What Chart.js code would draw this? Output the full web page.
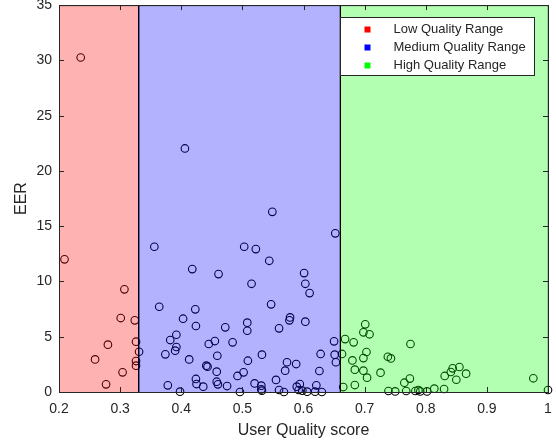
<!DOCTYPE html>
<html>
<head>
<meta charset="utf-8">
<script src="https://cdn.jsdelivr.net/npm/chart.js@4"></script>
<style>
  html, body { margin: 0; padding: 0; background: #fff; }
  #wrap { width: 556px; height: 444px; }
</style>
</head>
<body>
<div id="wrap"><canvas id="eerChart" width="556" height="444"></canvas></div>
<script>
const FONT = '"Liberation Sans", Arial, Helvetica, sans-serif';

// quality ranges
const bandEdges = [0.2, 0.33, 0.66, 1];
const bandNames = ['Low Quality Range', 'Medium Quality Range', 'High Quality Range'];
const bandFills = ['rgba(255,0,0,0.3)', 'rgba(0,0,255,0.3)', 'rgba(0,255,0,0.3)'];
const bandKeys = ['#ff0000', '#0000ff', '#00ff00'];

const xTicks = [0.2, 0.3, 0.4, 0.5, 0.6, 0.7, 0.8, 0.9, 1];
const yTicks = [0, 5, 10, 15, 20, 25, 30, 35];

// user quality score vs EER
const quality = [
  0.209, 0.2355, 0.307, 0.301, 0.324, 0.280, 0.326, 0.259, 0.326, 0.326, 0.304, 0.277,
  0.331, 0.356, 0.406, 0.418, 0.461, 0.364, 0.423, 0.403, 0.424, 0.392, 0.382, 0.392,
  0.390, 0.374, 0.445, 0.455, 0.459, 0.413, 0.441, 0.443, 0.458, 0.424, 0.425, 0.436,
  0.378, 0.398, 0.458, 0.460,
  0.549, 0.652, 0.503, 0.522, 0.544, 0.601, 0.515, 0.603, 0.610, 0.547, 0.578, 0.577,
  0.603, 0.508, 0.508, 0.472, 0.560, 0.484, 0.532, 0.509, 0.650, 0.651, 0.653, 0.628,
  0.573, 0.588, 0.570, 0.626, 0.502, 0.492, 0.555, 0.520, 0.531, 0.475, 0.531, 0.496,
  0.532, 0.560, 0.568, 0.589, 0.594, 0.592, 0.598, 0.606, 0.621, 0.619, 0.630,
  0.663, 0.665, 0.701, 0.698, 0.708, 0.668, 0.682, 0.775, 0.703, 0.698, 0.680, 0.738,
  0.743, 0.684, 0.698, 0.704, 0.726, 0.774, 0.765, 0.684, 0.844, 0.855, 0.841, 0.831,
  0.866, 0.850, 0.976, 1.0, 0.739, 0.750, 0.768, 0.783, 0.791, 0.802, 0.814, 0.830, 0.788
];
const eer = [
  12.0, 30.26, 9.29, 6.69, 6.48, 4.28, 4.55, 2.95, 2.80, 2.38, 1.78, 0.69,
  3.64, 13.14, 22.03, 11.12, 10.67, 7.71, 7.48, 6.63, 5.97, 5.18, 4.70, 4.07,
  3.74, 3.41, 4.34, 4.61, 3.28, 2.95, 2.38, 2.29, 1.84, 1.18, 0.72, 0.48,
  0.60, 0.03, 0.93, 0.69,
  16.30, 14.35, 13.14, 12.93, 11.87, 10.76, 9.79, 9.79, 8.95, 7.93, 6.75, 6.48,
  6.36, 6.27, 5.54, 5.85, 5.76, 4.49, 3.38, 2.83, 4.58, 3.38, 2.69, 3.44,
  2.69, 2.53, 1.93, 1.90, 1.78, 1.45, 1.09, 0.78, 0.57, 0.54, 0.24, 0.0,
  0.12, 0.18, 0.0, 0.48, 0.72, 0.18, 0.12, 0.03, 0.60, 0.03, 0.0,
  3.44, 0.45, 6.12, 5.40, 5.22, 4.79, 4.49, 4.34, 3.62, 3.07, 2.86, 3.19,
  3.04, 2.02, 1.93, 1.30, 1.75, 1.21, 0.84, 0.63, 2.14, 2.26, 1.81, 1.45,
  1.66, 1.11, 1.24, 0.18, 0.09, 0.05, 0.09, 0.09, 0.05, 0.05, 0.30, 0.27, 0.18
];

// shaded ranges go on top of the markers (like the transparent patches in the original)
const bandsPlugin = {
  id: 'bands',
  afterDatasetsDraw(chart) {
    const { ctx, chartArea: a, scales: { x } } = chart;
    ctx.save();
    for (let i = 0; i < bandNames.length; i++) {
      const x0 = x.getPixelForValue(bandEdges[i]);
      const x1 = x.getPixelForValue(bandEdges[i + 1]);
      ctx.fillStyle = bandFills[i];
      ctx.fillRect(x0, a.top, x1 - x0, a.bottom - a.top);
      ctx.strokeStyle = '#000';
      ctx.lineWidth = 1;
      ctx.strokeRect(Math.round(x0) + 0.5, a.top + 0.5, x1 - x0, a.bottom - a.top);
    }
    ctx.restore();
  },
};

// matlab style box with inward ticks on all sides, and the patch legend
const boxPlugin = {
  id: 'box',
  afterDraw(chart) {
    const { ctx, chartArea: a, scales: { x, y } } = chart;
    const len = 5;
    ctx.save();
    ctx.strokeStyle = '#262626';
    ctx.lineWidth = 1;
    ctx.beginPath();
    xTicks.forEach(v => {
      const px = Math.round(x.getPixelForValue(v)) + 0.5;
      ctx.moveTo(px, a.bottom); ctx.lineTo(px, a.bottom - len);
      ctx.moveTo(px, a.top); ctx.lineTo(px, a.top + len);
    });
    yTicks.forEach(v => {
      const py = Math.round(y.getPixelForValue(v)) + 0.5;
      ctx.moveTo(a.left, py); ctx.lineTo(a.left + len, py);
      ctx.moveTo(a.right, py); ctx.lineTo(a.right - len, py);
    });
    ctx.stroke();
    ctx.strokeRect(Math.round(a.left) + 0.5, Math.round(a.top) + 0.5,
      Math.round(a.right - a.left), Math.round(a.bottom - a.top));

    // legend
    const w = 194, h = 58;
    const lx = Math.round(a.right - 14 - w) + 0.5;
    const ly = Math.round(a.top + 12) + 0.5;
    ctx.fillStyle = '#fff';
    ctx.fillRect(lx, ly, w, h);
    ctx.strokeStyle = '#262626';
    ctx.strokeRect(lx, ly, w, h);
    ctx.font = '13px ' + FONT;
    ctx.textBaseline = 'middle';
    ctx.textAlign = 'left';
    bandNames.forEach((name, i) => {
      const cy = ly + 12 + i * 18;
      ctx.fillStyle = bandKeys[i];
      ctx.fillRect(lx + 24, cy - 3, 6, 6);
      ctx.fillStyle = '#262626';
      ctx.fillText(name, lx + 53, cy);
    });
    ctx.restore();
  },
};

new Chart(document.getElementById('eerChart'), {
  type: 'scatter',
  data: {
    datasets: [{
      label: 'EER',
      data: quality.map((q, i) => ({ x: q, y: eer[i] })),
      pointStyle: 'circle',
      pointRadius: 3.8,
      pointBorderWidth: 1.1,
      pointBorderColor: '#000',
      pointBackgroundColor: 'rgba(0,0,0,0)',
      clip: false,
    }],
  },
  options: {
    responsive: false,
    animation: false,
    events: [],
    layout: { padding: { left: 0, top: 5, right: 8, bottom: 0 } },
    plugins: {
      legend: { display: false },
      tooltip: { enabled: false },
    },
    scales: {
      x: {
        type: 'linear',
        min: 0.2,
        max: 1,
        afterBuildTicks: s => { s.ticks = xTicks.map(v => ({ value: v })); },
        afterFit: s => { s.height = 52; s.paddingLeft = 0; s.paddingRight = 0; },
        grid: { display: false, drawTicks: false },
        border: { display: false },
        ticks: {
          color: '#262626',
          font: { family: FONT, size: 14 },
          padding: 9,
          maxRotation: 0,
          callback: v => String(+v.toFixed(2)),
        },
        title: {
          display: true,
          text: 'User Quality score',
          color: '#262626',
          font: { family: FONT, size: 16 },
          padding: { top: 0, bottom: 4 },
        },
      },
      y: {
        type: 'linear',
        min: 0,
        max: 35,
        afterBuildTicks: s => { s.ticks = yTicks.map(v => ({ value: v })); },
        afterFit: s => { s.width = 59; s.paddingTop = 0; s.paddingBottom = 0; },
        grid: { display: false, drawTicks: false },
        border: { display: false },
        ticks: {
          color: '#262626',
          font: { family: FONT, size: 14 },
          padding: 7,
        },
        title: {
          display: true,
          text: 'EER',
          color: '#262626',
          font: { family: FONT, size: 16 },
          padding: { top: 12, bottom: 0 },
        },
      },
    },
  },
  plugins: [bandsPlugin, boxPlugin],
});
</script>
</body>
</html>
